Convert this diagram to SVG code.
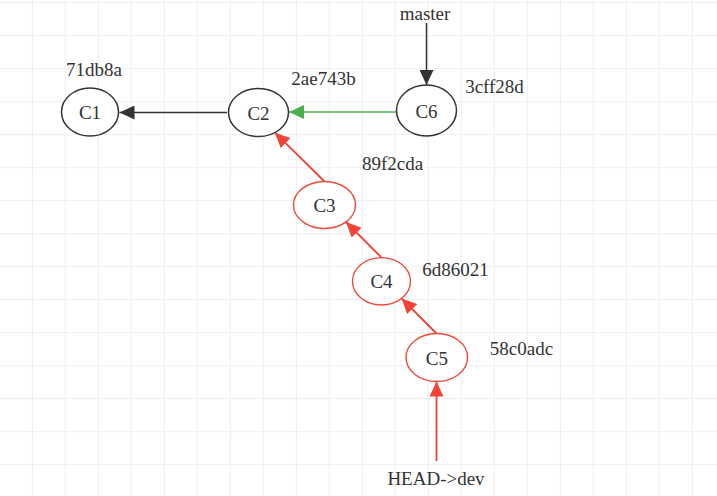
<svg xmlns="http://www.w3.org/2000/svg" width="717" height="496" viewBox="0 0 717 496">
<style>
text{font-family:"Liberation Serif","Times New Roman","DejaVu Serif",serif;font-size:19px;fill:#333;text-anchor:middle}
.nb{fill:#fff;stroke:#333;stroke-width:1.5}
.nr{fill:#fff;stroke:#ef4a3a;stroke-width:1.4}
.eb{stroke:#333;stroke-width:1.5;fill:none}
.eg{stroke:#4caf50;stroke-width:1.5;fill:none}
.er{stroke:#f44336;stroke-width:1.8;fill:none}
</style>
<defs>
<pattern id="grid" x="-1.2" y="2.2" width="33" height="33" patternUnits="userSpaceOnUse">
<path d="M0.5 0V33M0 0.5H33" stroke="#eeeeee" stroke-width="1" fill="none"/>
</pattern>
<marker id="ab" markerUnits="userSpaceOnUse" markerWidth="16" markerHeight="14" refX="15" refY="7" orient="auto"><path d="M0 0L15 7L0 14z" fill="#333"/></marker>
<marker id="ag" markerUnits="userSpaceOnUse" markerWidth="16" markerHeight="14" refX="15" refY="7" orient="auto"><path d="M0 0L15 7L0 14z" fill="#4caf50"/></marker>
<marker id="ar" markerUnits="userSpaceOnUse" markerWidth="16" markerHeight="14" refX="15" refY="7" orient="auto"><path d="M0 0L15 7L0 14z" fill="#f44336"/></marker>
</defs>
<rect width="717" height="496" fill="#fff"/>
<rect width="717" height="496" fill="url(#grid)"/>
<g id="connectors">
<line class="eb" x1="227" y1="112.5" x2="119.5" y2="112.5" marker-end="url(#ab)"/>
<line class="eg" x1="396.5" y1="112" x2="289" y2="112" marker-end="url(#ag)"/>
<line class="eb" x1="426.5" y1="23" x2="426.5" y2="85" marker-end="url(#ab)"/>
<line class="er" x1="324.5" y1="181.5" x2="275" y2="132.7" marker-end="url(#ar)"/>
<line class="er" x1="381.5" y1="257.6" x2="346" y2="222" marker-end="url(#ar)"/>
<line class="er" x1="436.5" y1="333.5" x2="401.6" y2="298.5" marker-end="url(#ar)"/>
<line class="er" x1="436.5" y1="461" x2="436.5" y2="381.5" marker-end="url(#ar)"/>
</g>
<g id="C1"><ellipse class="nb" cx="90" cy="112" rx="28.5" ry="24"/><text x="90" y="119">C1</text></g>
<g id="C2"><ellipse class="nb" cx="258.5" cy="112.5" rx="30" ry="24"/><text x="258.5" y="119.5">C2</text></g>
<g id="C6"><ellipse class="nb" cx="426.5" cy="110.5" rx="30" ry="25.5"/><text x="426.5" y="117.5">C6</text></g>
<g id="C3"><ellipse class="nr" cx="324.5" cy="205" rx="31" ry="23.5"/><text x="324.5" y="212">C3</text></g>
<g id="C4"><ellipse class="nr" cx="381.5" cy="281.3" rx="29" ry="23.7"/><text x="381.5" y="288.3">C4</text></g>
<g id="C5"><ellipse class="nr" cx="436.8" cy="357.5" rx="30.8" ry="24"/><text x="436.8" y="364.5">C5</text></g>
<g id="labels">
<text x="425" y="20">master</text>
<text x="94" y="76">71db8a</text>
<text x="323.5" y="85">2ae743b</text>
<text x="494.5" y="92.5">3cff28d</text>
<text x="392.5" y="170">89f2cda</text>
<text x="455.5" y="276">6d86021</text>
<text x="521.5" y="355">58c0adc</text>
<text x="436" y="485">HEAD-&gt;dev</text>
</g>
</svg>
